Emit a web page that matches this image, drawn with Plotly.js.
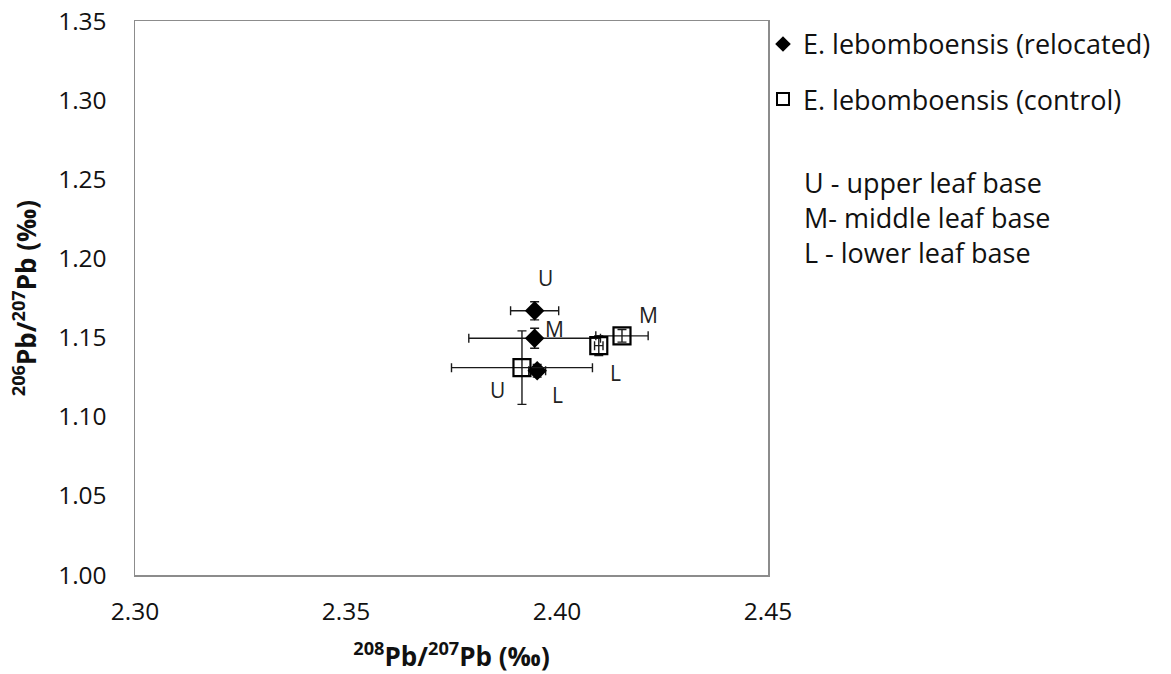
<!DOCTYPE html>
<html>
<head>
<meta charset="utf-8">
<script src="https://cdn.plot.ly/plotly-3.0.1.min.js"></script>
<style>
  html, body { margin: 0; padding: 0; background: #fff; }
  #chart { width: 1171px; height: 674px; }
</style>
</head>
<body>
<div id="chart"></div>
<script>
// Lead isotope ratios of leaf bases (upper, middle, lower)
const positions = ['U', 'M', 'L'];

// E. lebomboensis (relocated)
const relocX    = [2.3947, 2.3947, 2.3953];
const relocY    = [1.1669, 1.1496, 1.1290];
const relocXErr = [0.0057, 0.0156, 0.0020];
const relocYErr = [0.0057, 0.0063, 0.0040];

// E. lebomboensis (control)
const ctrlX    = [2.3917, 2.4154, 2.4099];
const ctrlY    = [1.1310, 1.1511, 1.1449];
const ctrlXErr = [0.0167, 0.0062, 0.0010];
const ctrlYErr = [0.0232, 0.0040, 0.0063];

const xTicks = [2.30, 2.35, 2.40, 2.45];
const yTicks = [1.00, 1.05, 1.10, 1.15, 1.20, 1.25, 1.30, 1.35];

const keyLines = ['U - upper leaf base', 'M- middle leaf base', 'L - lower leaf base'];

// pixel offsets of the U/M/L point labels
const relocLabelShift = [[11, 33], [20, 9], [20, -24]];
const ctrlLabelShift  = [[-24, -22], [27, 21], [17, -27]];

const FONT = 'Open Sans, Noto Sans, sans-serif';
const errStyle = (arr) => ({ type: 'data', array: arr, visible: true, color: '#1a1a1a', thickness: 1.4, width: 4.5 });

const traces = [
  {
    x: relocX, y: relocY, type: 'scatter', mode: 'markers',
    name: 'E. lebomboensis (relocated)', legendgroup: 'a',
    marker: { symbol: 'diamond', size: 15, color: '#000' },
    error_x: errStyle(relocXErr), error_y: errStyle(relocYErr)
  },
  {
    x: ctrlX, y: ctrlY, type: 'scatter', mode: 'markers',
    name: 'E. lebomboensis (control)', legendgroup: 'b',
    marker: { symbol: 'square-open', size: 17, color: '#000', line: { width: 2.2, color: '#000' } },
    error_x: errStyle(ctrlXErr), error_y: errStyle(ctrlYErr)
  }
];

const annotations = [];
positions.forEach((p, i) => {
  annotations.push({ x: relocX[i], y: relocY[i], text: p, showarrow: false,
    xshift: relocLabelShift[i][0], yshift: relocLabelShift[i][1], font: { family: FONT, size: 21, color: '#222' } });
  annotations.push({ x: ctrlX[i], y: ctrlY[i], text: p, showarrow: false,
    xshift: ctrlLabelShift[i][0], yshift: ctrlLabelShift[i][1], font: { family: FONT, size: 21, color: '#222' } });
});
annotations.push({
  xref: 'paper', yref: 'paper', x: 1.054, y: 0.746, xanchor: 'left', yanchor: 'top',
  align: 'left', showarrow: false, text: keyLines.join('<br>'),
  font: { family: FONT, size: 27, color: '#111' }
});

const axisCommon = {
  showgrid: false, zeroline: false, showline: true, mirror: true,
  linecolor: '#8c8c8c', linewidth: 1.5, ticks: '',
  tickfont: { family: FONT, size: 24.5, color: '#111' }
};

const layout = {
  width: 1171, height: 674,
  margin: { l: 135, r: 403, t: 21, b: 99 },
  paper_bgcolor: '#fff', plot_bgcolor: '#fff',
  showlegend: true,
  legend: {
    x: 0.9921, xanchor: 'left', y: 1.002, yanchor: 'top',
    font: { family: FONT, size: 27, color: '#111' },
    tracegroupgap: 17, itemsizing: 'constant', bgcolor: 'rgba(0,0,0,0)'
  },
  xaxis: Object.assign({}, axisCommon, {
    range: [2.30, 2.45], tickvals: xTicks, ticktext: xTicks.map(v => v.toFixed(2)),
    ticklabelstandoff: 14,
    title: { text: '<b><sup>208</sup>Pb/<sup>207</sup>Pb (‰)</b>', font: { family: FONT, size: 26, color: '#111' }, standoff: 24 }
  }),
  yaxis: Object.assign({}, axisCommon, {
    range: [1.00, 1.35], tickvals: yTicks, ticktext: yTicks.map(v => v.toFixed(2)),
    ticklabelstandoff: 22,
    title: { text: '<b><sup>206</sup>Pb/<sup>207</sup>Pb (‰)</b>', font: { family: FONT, size: 26, color: '#111' }, standoff: 14 }
  }),
  annotations: annotations
};

Plotly.newPlot('chart', traces, layout, { displayModeBar: false, staticPlot: true });
</script>
</body>
</html>
